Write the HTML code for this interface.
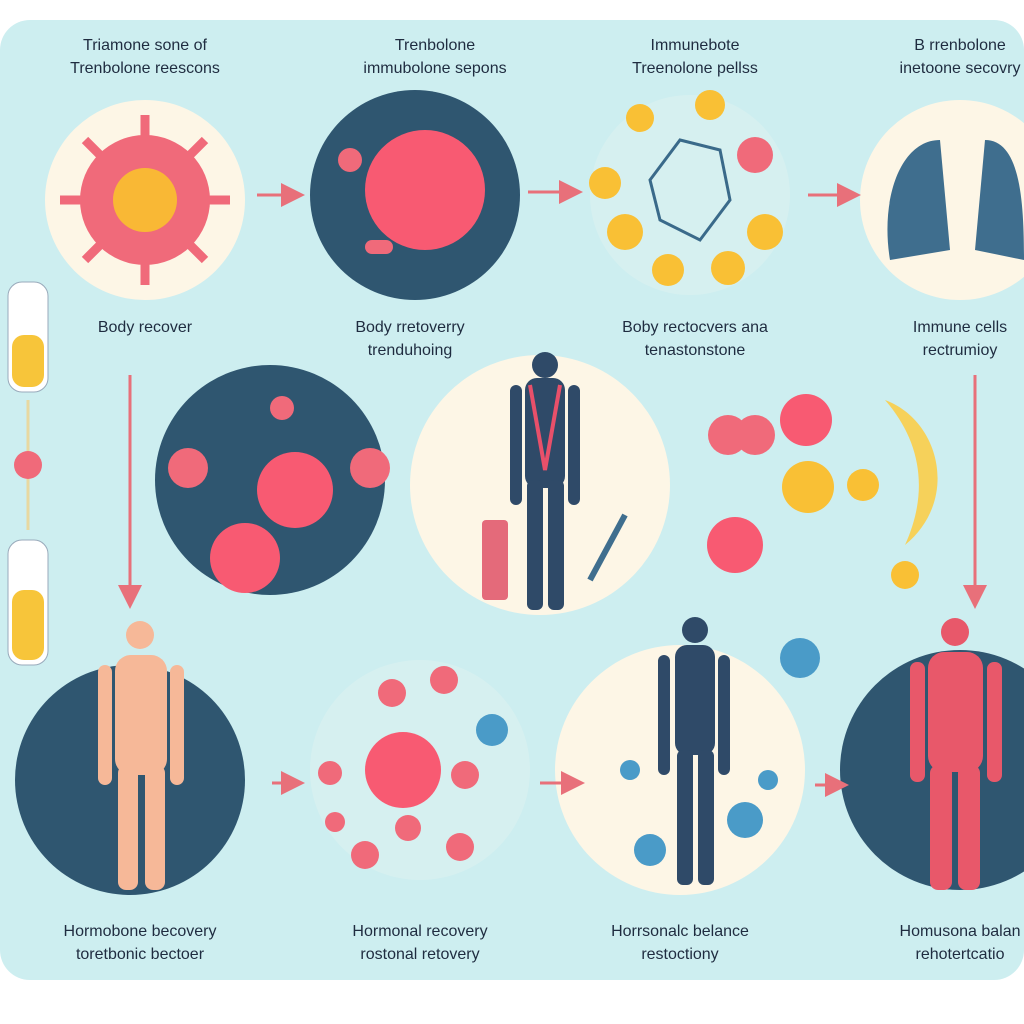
<!DOCTYPE html>
<html><head><style>
body{margin:0;width:1024px;height:1024px;background:#fff;overflow:hidden;position:relative;font-family:"Liberation Sans",sans-serif}
.panel{position:absolute;left:0;top:20px;width:1024px;height:960px;background:#cdeef0;border-radius:30px}
.t{position:absolute;text-align:center;font-size:16px;color:#1f2c40;line-height:23px;width:260px}
</style></head><body>
<div class="panel"></div>
<svg width="1024" height="1024" style="position:absolute;left:0;top:0">
<defs><marker id="a" markerWidth="8" markerHeight="8" refX="5" refY="4" orient="auto"><path d="M0,0L8,4L0,8z" fill="#e8707a"/></marker></defs>
<circle cx="145" cy="200" r="100" fill="#fdf6e6"/>
<g stroke="#f06a7a" stroke-width="9"><line x1="145" y1="115" x2="145" y2="285"/><line x1="60" y1="200" x2="230" y2="200"/><line x1="85" y1="140" x2="205" y2="260"/><line x1="205" y1="140" x2="85" y2="260"/></g>
<circle cx="145" cy="200" r="65" fill="#f06a7a"/>
<circle cx="145" cy="200" r="32" fill="#f9b835"/>
<circle cx="415" cy="195" r="105" fill="#2f5670"/>
<circle cx="425" cy="190" r="60" fill="#f85a72"/>
<circle cx="350" cy="160" r="12" fill="#f06a7a"/><rect x="365" y="240" width="28" height="14" rx="7" fill="#f06a7a"/>
<circle cx="690" cy="195" r="100" fill="#d6f0f0"/>
<circle cx="710" cy="105" r="15" fill="#f9c035"/><circle cx="640" cy="118" r="14" fill="#f9c035"/><circle cx="755" cy="155" r="18" fill="#f06a7a"/><circle cx="605" cy="183" r="16" fill="#f9c035"/><circle cx="625" cy="232" r="18" fill="#f9c035"/><circle cx="765" cy="232" r="18" fill="#f9c035"/><circle cx="668" cy="270" r="16" fill="#f9c035"/><circle cx="728" cy="268" r="17" fill="#f9c035"/>
<path d="M650,180 L680,140 L720,150 L730,200 L700,240 L660,220z" fill="none" stroke="#3a6a8a" stroke-width="3"/>
<circle cx="960" cy="200" r="100" fill="#fdf6e6"/>
<path d="M940,140 C900,140 880,200 890,260 L950,250z M985,140 C1020,140 1024,200 1024,260 L975,250z" fill="#3f6e8e"/>
<circle cx="270" cy="480" r="115" fill="#2f5670"/>
<circle cx="295" cy="490" r="38" fill="#f85a72"/><circle cx="188" cy="468" r="20" fill="#f06a7a"/><circle cx="370" cy="468" r="20" fill="#f06a7a"/><circle cx="245" cy="558" r="35" fill="#f85a72"/><circle cx="282" cy="408" r="12" fill="#f06a7a"/>
<circle cx="540" cy="485" r="130" fill="#fdf6e6"/>
<g fill="#2f4a68"><circle cx="545" cy="365" r="13"/><rect x="525" y="378" width="40" height="110" rx="12"/><rect x="510" y="385" width="12" height="120" rx="6"/><rect x="568" y="385" width="12" height="120" rx="6"/><rect x="527" y="480" width="16" height="130" rx="6"/><rect x="548" y="480" width="16" height="130" rx="6"/></g>
<path d="M530,385 L545,470 L560,385" stroke="#e8506a" stroke-width="4" fill="none"/>
<rect x="482" y="520" width="26" height="80" rx="4" fill="#e46a7a"/>
<line x1="590" y1="580" x2="625" y2="515" stroke="#3f6e8e" stroke-width="6"/>
<circle cx="755" cy="435" r="20" fill="#f06a7a"/><circle cx="806" cy="420" r="26" fill="#f85a72"/><circle cx="808" cy="487" r="26" fill="#f9c035"/><circle cx="863" cy="485" r="16" fill="#f9c035"/><circle cx="728" cy="435" r="20" fill="#f06a7a"/><circle cx="735" cy="545" r="28" fill="#f85a72"/><circle cx="905" cy="575" r="14" fill="#f9c035"/>
<path d="M885,400 C940,420 960,500 905,545 C930,490 920,440 885,400z" fill="#f6d15a"/>
<circle cx="130" cy="780" r="115" fill="#2f5670"/>
<g fill="#f6b898"><circle cx="140" cy="635" r="14"/><rect x="115" y="655" width="52" height="120" rx="16"/><rect x="98" y="665" width="14" height="120" rx="7"/><rect x="170" y="665" width="14" height="120" rx="7"/><rect x="118" y="765" width="20" height="125" rx="8"/><rect x="145" y="765" width="20" height="125" rx="8"/></g>
<circle cx="420" cy="770" r="110" fill="#d6f0f0"/>
<circle cx="403" cy="770" r="38" fill="#f85a72"/><circle cx="392" cy="693" r="14" fill="#f06a7a"/><circle cx="444" cy="680" r="14" fill="#f06a7a"/><circle cx="465" cy="775" r="14" fill="#f06a7a"/><circle cx="330" cy="773" r="12" fill="#f06a7a"/><circle cx="408" cy="828" r="13" fill="#f06a7a"/><circle cx="460" cy="847" r="14" fill="#f06a7a"/><circle cx="365" cy="855" r="14" fill="#f06a7a"/><circle cx="492" cy="730" r="16" fill="#4a9bc8"/><circle cx="335" cy="822" r="10" fill="#f06a7a"/>
<circle cx="680" cy="770" r="125" fill="#fdf6e6"/>
<g fill="#2f4a68"><circle cx="695" cy="630" r="13"/><rect x="675" y="645" width="40" height="110" rx="12"/><rect x="658" y="655" width="12" height="120" rx="6"/><rect x="718" y="655" width="12" height="120" rx="6"/><rect x="677" y="750" width="16" height="135" rx="6"/><rect x="698" y="750" width="16" height="135" rx="6"/></g>
<circle cx="800" cy="658" r="20" fill="#4a9bc8"/><circle cx="745" cy="820" r="18" fill="#4a9bc8"/><circle cx="650" cy="850" r="16" fill="#4a9bc8"/><circle cx="630" cy="770" r="10" fill="#4a9bc8"/><circle cx="768" cy="780" r="10" fill="#4a9bc8"/>
<circle cx="960" cy="770" r="120" fill="#2f5670"/>
<g fill="#e8586a"><circle cx="955" cy="632" r="14"/><rect x="928" y="652" width="55" height="120" rx="16"/><rect x="910" y="662" width="15" height="120" rx="7"/><rect x="987" y="662" width="15" height="120" rx="7"/><rect x="930" y="765" width="22" height="125" rx="8"/><rect x="958" y="765" width="22" height="125" rx="8"/></g>
<g stroke="#e8707a" stroke-width="3" marker-end="url(#a)" fill="none">
<line x1="257" y1="195" x2="296" y2="195"/><line x1="528" y1="192" x2="574" y2="192"/><line x1="808" y1="195" x2="852" y2="195"/>
<line x1="130" y1="375" x2="130" y2="600"/><line x1="975" y1="375" x2="975" y2="600"/>
<line x1="272" y1="783" x2="296" y2="783"/><line x1="540" y1="783" x2="576" y2="783"/><line x1="815" y1="785" x2="840" y2="785"/>
</g>
<rect x="8" y="282" width="40" height="110" rx="14" fill="#fff" stroke="#9ab"/><rect x="12" y="335" width="32" height="52" rx="12" fill="#f7c53a"/>
<rect x="8" y="540" width="40" height="125" rx="14" fill="#fff" stroke="#9ab"/><rect x="12" y="590" width="32" height="70" rx="12" fill="#f7c53a"/>
<line x1="28" y1="400" x2="28" y2="530" stroke="#e8d8a0" stroke-width="3"/><circle cx="28" cy="465" r="14" fill="#f06a7a"/>
</svg>
<div class="t" style="left:15px;top:34px">Triamone sone of<br>Trenbolone reescons</div>
<div class="t" style="left:305px;top:34px">Trenbolone<br>immubolone sepons</div>
<div class="t" style="left:565px;top:34px">Immunebote<br>Treenolone pellss</div>
<div class="t" style="left:830px;top:34px">B rrenbolone<br>inetoone secovry</div>
<div class="t" style="left:15px;top:316px">Body recover</div>
<div class="t" style="left:280px;top:316px">Body rretoverry<br>trenduhoing</div>
<div class="t" style="left:565px;top:316px">Boby rectocvers ana<br>tenastonstone</div>
<div class="t" style="left:830px;top:316px">Immune cells<br>rectrumioy</div>
<div class="t" style="left:10px;top:920px">Hormobone becovery<br>toretbonic bectoer</div>
<div class="t" style="left:290px;top:920px">Hormonal recovery<br>rostonal retovery</div>
<div class="t" style="left:550px;top:920px">Horrsonalc belance<br>restoctiony</div>
<div class="t" style="left:830px;top:920px">Homusona balan<br>rehotertcatio</div>
</body></html>
